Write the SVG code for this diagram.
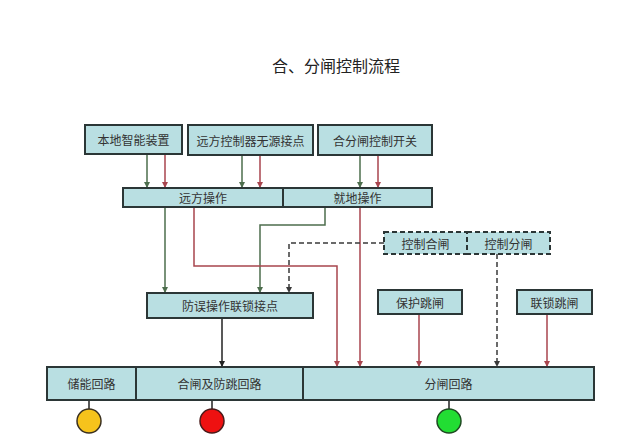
<svg xmlns="http://www.w3.org/2000/svg" width="640" height="438" viewBox="0 0 640 438">
<style>
.box{fill:#b9dfe2;stroke:#2b3636;stroke-width:2}
.dbox{fill:#b9dfe2;stroke:#2b3636;stroke-width:2;stroke-dasharray:5,3}
.t{font-family:"Noto Sans CJK SC","Liberation Sans",sans-serif;font-size:12px;fill:#333;text-anchor:middle;dominant-baseline:central}
.title{font-family:"Noto Sans CJK SC","Liberation Sans",sans-serif;font-size:16px;fill:#222;text-anchor:middle;dominant-baseline:central}
.g{fill:none;stroke:#4d6e4d;stroke-width:1.5;marker-end:url(#ag)}
.r{fill:none;stroke:#a8454e;stroke-width:1.5;marker-end:url(#ar)}
.d{fill:none;stroke:#3a3a3a;stroke-width:1.5;stroke-dasharray:5,3;marker-end:url(#ad)}
.k{fill:none;stroke:#222;stroke-width:1.5}
.ka{fill:none;stroke:#222;stroke-width:1.5;marker-end:url(#ak)}
</style>
<defs>
<marker id="ag" viewBox="0 0 10 10" refX="10" refY="5" markerWidth="4" markerHeight="4" orient="auto"><path d="M0,0 L10,5 L0,10 z" fill="#4d6e4d"/></marker>
<marker id="ar" viewBox="0 0 10 10" refX="10" refY="5" markerWidth="4" markerHeight="4" orient="auto"><path d="M0,0 L10,5 L0,10 z" fill="#a8454e"/></marker>
<marker id="ad" viewBox="0 0 10 10" refX="10" refY="5" markerWidth="4" markerHeight="4" orient="auto"><path d="M0,0 L10,5 L0,10 z" fill="#3a3a3a"/></marker>
<marker id="ak" viewBox="0 0 10 10" refX="10" refY="5" markerWidth="4" markerHeight="4" orient="auto"><path d="M0,0 L10,5 L0,10 z" fill="#222"/></marker>
</defs>
<rect width="640" height="438" fill="#fff"/>
<text class="title" x="336" y="65">合、分闸控制流程</text>

<g id="connectors">
<path class="g" d="M147,153 V188"/>
<path class="g" d="M242,155 V188"/>
<path class="g" d="M360,155 V188"/>
<path class="g" d="M165,207 V293"/>
<path class="g" d="M325,207 V225 H260 V293"/>
<path class="r" d="M165,153 V188"/>
<path class="r" d="M260,155 V188"/>
<path class="r" d="M378,155 V188"/>
<path class="r" d="M194,207 V266 H337 V367"/>
<path class="r" d="M360,207 V367"/>
<path class="r" d="M419,314 V367"/>
<path class="r" d="M547,314 V367"/>
<path class="d" d="M384,243 H289 V293"/>
<path class="d" d="M497,254 V367"/>
<path class="ka" d="M222,318 V367"/>
<path class="k" d="M89,400 V409"/>
<path class="k" d="M212,400 V409"/>
<path class="k" d="M449,400 V409"/>
</g>

<g id="n1"><rect class="box" x="85" y="125" width="97" height="29"/><text class="t" x="133.5" y="139.5">本地智能装置</text></g>
<g id="n2"><rect class="box" x="188" y="125" width="125" height="30"/><text class="t" x="250.5" y="140">远方控制器无源接点</text></g>
<g id="n3"><rect class="box" x="318" y="125" width="114" height="30"/><text class="t" x="375" y="140">合分闸控制开关</text></g>
<g id="n4"><rect class="box" x="123" y="188" width="160" height="19"/><text class="t" x="203" y="197.5">远方操作</text></g>
<g id="n5"><rect class="box" x="283" y="188" width="149" height="19"/><text class="t" x="357.5" y="197.5">就地操作</text></g>
<g id="n6"><rect class="dbox" x="384" y="232" width="83" height="22"/><text class="t" x="425.5" y="243">控制合闸</text></g>
<g id="n7"><rect class="dbox" x="467" y="232" width="83" height="22"/><text class="t" x="508.5" y="243">控制分闸</text></g>
<g id="n8"><rect class="box" x="147" y="293" width="166" height="25"/><text class="t" x="230" y="305.5">防误操作联锁接点</text></g>
<g id="n9"><rect class="box" x="378" y="290" width="84" height="24"/><text class="t" x="420" y="302">保护跳闸</text></g>
<g id="n10"><rect class="box" x="517" y="290" width="75" height="24"/><text class="t" x="554.5" y="302">联锁跳闸</text></g>
<g id="n11"><rect class="box" x="47" y="367" width="89" height="33"/><text class="t" x="91.5" y="383.5">储能回路</text></g>
<g id="n12"><rect class="box" x="136" y="367" width="167" height="33"/><text class="t" x="219.5" y="383.5">合闸及防跳回路</text></g>
<g id="n13"><rect class="box" x="303" y="367" width="291" height="33"/><text class="t" x="448.5" y="383.5">分闸回路</text></g>
<g id="c1"><circle cx="89" cy="421" r="12" fill="#f6c31c" stroke="#3a3020" stroke-width="1.5"/></g>
<g id="c2"><circle cx="212" cy="421" r="12" fill="#ee1111" stroke="#4a1a1a" stroke-width="1.5"/></g>
<g id="c3"><circle cx="449" cy="421" r="12" fill="#22dd33" stroke="#1f4a22" stroke-width="1.5"/></g>
</svg>
